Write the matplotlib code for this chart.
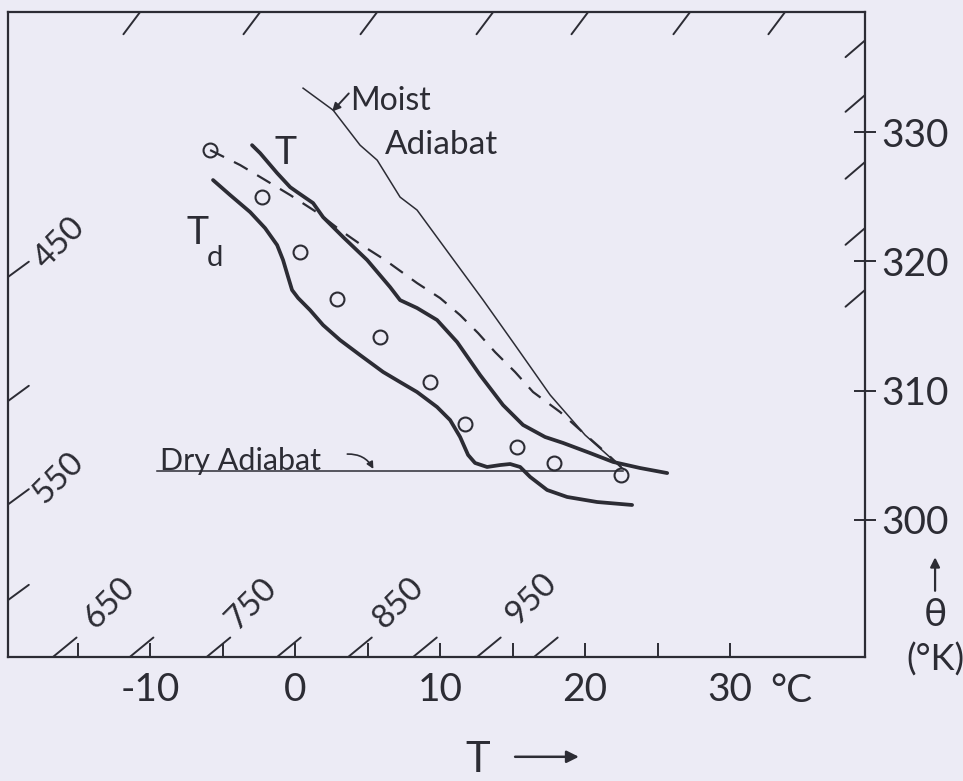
import matplotlib.pyplot as plt

plt.rcParams['font.family'] = ['Lato', 'DejaVu Sans']

ink = '#2c2c34'
paper = '#ecebf5'

# sounding: temperature T (deg C) against potential temperature theta (K)
t_temp = [-2.97, -2.41, -1.24, -0.34, 0.14, 1.24, 1.93, 3.31, 4.97, 6.55, 7.24, 8.41,
          9.79, 11.17, 12.76, 14.34, 15.72, 17.24, 18.48, 20.34, 21.93, 23.79, 25.66]
t_theta = [329.0, 328.38, 326.84, 325.75, 325.37, 324.52, 323.43, 321.89, 320.11, 318.02,
           317.01, 316.40, 315.47, 313.77, 311.21, 308.89, 307.35, 306.42, 305.96, 305.18,
           304.49, 304.02, 303.63]

# dew point Td
td_temp = [-5.66, -4.48, -3.10, -2.07, -1.24, -0.83, -0.48, -0.21, 0.21, 1.03, 1.93, 3.10,
           4.48, 6.07, 7.24, 8.41, 9.79, 10.69, 11.38, 11.93, 12.41, 13.24, 14.14, 14.83,
           15.52, 16.21, 17.38, 18.76, 20.83, 23.24]
td_theta = [326.30, 325.14, 323.82, 322.58, 321.27, 320.11, 318.79, 317.79, 317.17, 316.24,
            315.08, 313.92, 312.76, 311.45, 310.67, 309.90, 308.74, 307.73, 306.42, 305.03,
            304.41, 304.10, 304.25, 304.33, 304.10, 303.33, 302.32, 301.78, 301.39, 301.16]

# dashed curve
dash_temp = [-5.86, -3.79, -2.28, -0.34, 1.59, 3.10, 4.48, 6.21, 8.41, 10.0, 11.38, 12.62,
             13.79, 15.17, 16.41, 18.28, 19.66, 21.38, 22.55]
dash_theta = [328.62, 327.46, 326.45, 325.14, 323.74, 322.43, 321.35, 320.11, 318.33, 317.17,
              315.85, 314.46, 312.99, 311.45, 309.90, 308.35, 306.96, 305.26, 304.02]

# moist adiabat
moist_temp = [0.55, 2.62, 4.48, 5.66, 7.24, 8.41, 10.69, 12.97, 15.17, 17.59, 20.0, 22.55]
moist_theta = [333.41, 331.71, 329.0, 327.84, 324.98, 323.98, 320.49, 317.01, 313.53,
               309.67, 306.57, 304.02]

# open circles
circ_temp = [-5.86, -2.28, 0.34, 2.90, 5.86, 9.31, 11.72, 15.31, 17.86, 22.48]
circ_theta = [328.6, 324.98, 320.73, 317.09, 314.15, 310.67, 307.42, 305.65, 304.41, 303.48]

# dry adiabat
dry_temp = [-9.5, 22.6]
dry_theta = 303.8

x_ticks = [-10, 0, 10, 20, 30]
x_minor = [-15, -5, 5, 15, 25]
theta_ticks = [300, 310, 320, 330]

# isobar marks (mb) along the frame
bottom_p = [650, 700, 750, 800, 850, 900, 950, 1000]
bottom_p_temp = [-16.7, -11.4, -6.1, -1.24, 3.66, 8.14, 12.55, 16.48]
left_p = [450, 500, 550, 600]
left_p_theta = [318.8, 309.2, 301.2, 293.8]
top_p_temp = [-10.69, -2.41, 5.66, 13.66, 20.21, 27.24, 33.79]
right_p_theta = [337.1, 332.87, 327.69, 322.58, 317.79]
p_labels = ['450', '550', '650', '750', '850', '950']
p_label_temp = [-16.2, -16.3, -12.8, -3.0, 7.1, 16.3]
p_label_theta = [321.4, 303.2, 293.6, 293.5, 293.6, 293.9]

fig = plt.figure(figsize=(9.63, 7.81), dpi=100, facecolor=paper)
ax = fig.add_axes([0.0083, 0.1588, 0.8899, 0.8258])
ax.set_facecolor(paper)
ax.set_xlim(-19.8, 39.3)
ax.set_ylim(289.4, 339.3)

ax.plot(t_temp, t_theta, color=ink, lw=2.7, solid_capstyle='round')
ax.plot(td_temp, td_theta, color=ink, lw=2.7, solid_capstyle='round')
ax.plot(dash_temp, dash_theta, color=ink, lw=1.6, dashes=(7, 5))
ax.plot(moist_temp, moist_theta, color=ink, lw=1.1)
ax.plot(dry_temp, [dry_theta, dry_theta], color=ink, lw=1.1)
ax.plot(circ_temp, circ_theta, 'o', ms=10, mfc='none', mec=ink, mew=1.5)

for s in ax.spines.values():
    s.set_color(ink)
    s.set_linewidth(1.6)

ax.set_xticks(x_ticks)
ax.set_xticklabels([str(v) for v in x_ticks])
ax.set_xticks(x_minor, minor=True)
ax.tick_params(axis='x', which='both', direction='in', length=10, width=1.4,
               colors=ink, labelsize=28, pad=11)
ax.yaxis.tick_right()
ax.set_yticks(theta_ticks)
ax.tick_params(axis='y', direction='inout', length=16, width=1.4, colors=ink,
               labelsize=28, pad=4)

# slanted isobar ticks on the frame
tick_kw = dict(arrowprops=dict(arrowstyle='-', lw=1.4, color=ink,
                               shrinkA=0, shrinkB=0), annotation_clip=False)
xt = ax.get_xaxis_transform()
yt = ax.get_yaxis_transform()
for v in bottom_p_temp:
    ax.annotate('', xy=(v, 0), xycoords=xt, xytext=(17, 14),
                textcoords='offset points', **tick_kw)
for v in top_p_temp:
    ax.annotate('', xy=(v, 1), xycoords=xt, xytext=(-12, -16),
                textcoords='offset points', **tick_kw)
for v in left_p_theta:
    ax.annotate('', xy=(0, v), xycoords=yt, xytext=(15, 11),
                textcoords='offset points', **tick_kw)
for v in right_p_theta:
    ax.annotate('', xy=(1, v), xycoords=yt, xytext=(-14, -12),
                textcoords='offset points', **tick_kw)
for lab, x, y in zip(p_labels, p_label_temp, p_label_theta):
    ax.text(x, y, lab, rotation=45, ha='center', va='center', fontsize=24, color=ink)

ax.text(34.2, 286.75, '°C', ha='center', va='center', fontsize=28, color=ink,
        clip_on=False)

# annotations
ax.text(3.79, 332.45, 'Moist', ha='left', va='center', fontsize=23, color=ink)
ax.annotate('', xy=(2.55, 331.6), xytext=(3.7, 333.0),
            arrowprops=dict(arrowstyle='-|>', lw=1.4, color=ink, mutation_scale=12,
                            shrinkA=0, shrinkB=0))
ax.text(6.21, 329.0, 'Adiabat', ha='left', va='center', fontsize=24, color=ink)
ax.text(-0.69, 328.4, 'T', ha='center', va='center', fontsize=27, color=ink)
ax.text(-6.76, 322.2, 'T', ha='center', va='center', fontsize=27, color=ink)
ax.text(-5.5, 320.3, 'd', ha='center', va='center', fontsize=21, color=ink)
ax.text(-9.31, 304.6, 'Dry Adiabat', ha='left', va='center', fontsize=22, color=ink)
ax.annotate('', xy=(5.4, 303.95), xytext=(3.6, 305.1),
            arrowprops=dict(arrowstyle='-|>', lw=1.2, color=ink, mutation_scale=10,
                            shrinkA=0, shrinkB=0, connectionstyle='arc3,rad=-0.3'))

# right axis label
fig.text(0.971, 0.2125, 'θ', ha='center', va='center', fontsize=28, color=ink)
fig.text(0.971, 0.155, '(°K)', ha='center', va='center', fontsize=26, color=ink)
fig.add_artist(plt.matplotlib.patches.FancyArrowPatch(
    (0.971, 0.24), (0.971, 0.29), transform=fig.transFigure,
    arrowstyle='-|>', mutation_scale=14, lw=1.6, color=ink))

# bottom axis label
fig.text(0.496, 0.027, 'T', ha='center', va='center', fontsize=30, color=ink)
fig.add_artist(plt.matplotlib.patches.FancyArrowPatch(
    (0.532, 0.031), (0.604, 0.031), transform=fig.transFigure,
    arrowstyle='-|>', mutation_scale=18, lw=1.8, color=ink))

fig.savefig('out.png', dpi=100, facecolor=paper)
